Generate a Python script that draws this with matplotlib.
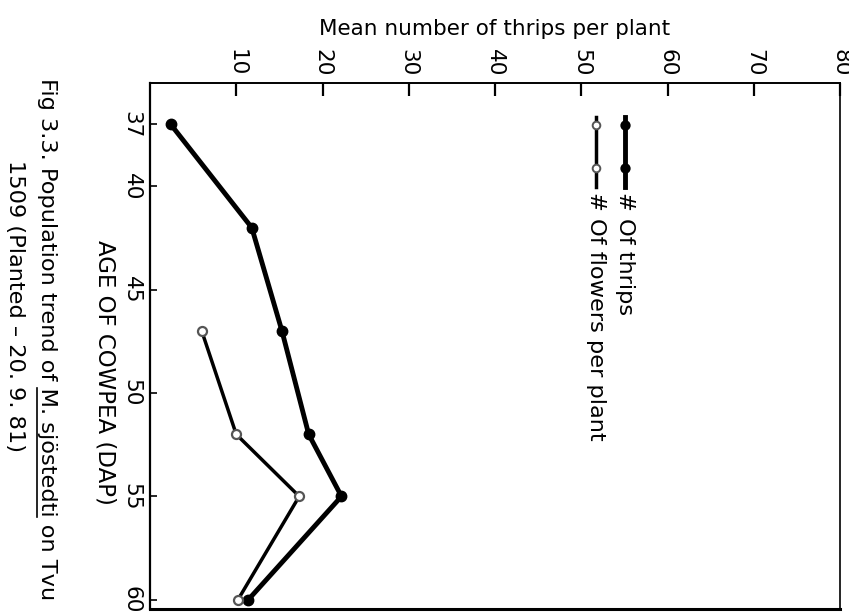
import matplotlib
matplotlib.use("Agg")
import matplotlib.pyplot as plt
from matplotlib.lines import Line2D

# Data (age in days after planting, mean number per plant)
thrips_age = [37, 42, 47, 52, 55, 60]
thrips_mean = [2.4, 11.8, 15.3, 18.4, 22.2, 11.4]
flower_age = [47, 52, 55, 60]
flower_mean = [6.0, 10.0, 17.3, 10.2]
thrips_ticks = [10, 20, 30, 40, 50, 60, 70, 80]
age_ticks = [37, 40, 45, 50, 55, 60]
legend_labels = ["# Of thrips", "# Of flowers per plant"]
caption_pre = "Fig 3.3. Population trend of "
caption_species = "M. sjöstedti"
caption_post = " on Tvu"
caption_line2 = "1509 (Planted \u2013 20. 9. 81)"

W, H = 849, 613
fig = plt.figure(figsize=(W / 100, H / 100), dpi=100)
fig.patch.set_facecolor("white")
ax = fig.add_axes([150 / W, 1 - 609 / H, 690 / W, 526 / H])

ax.plot(thrips_mean, thrips_age, color="black", lw=3.5, marker="o",
        ms=7.5, mfc="black", mec="black", zorder=3, solid_capstyle="round")
ax.plot(flower_mean, flower_age, color="black", lw=2.5, marker="o",
        ms=6.5, mfc="white", mec="#555555", mew=1.6, zorder=4)

ax.set_xlim(0, 80)
ax.set_ylim(60.45, 35)

ax.xaxis.tick_top()
ax.set_xticks(thrips_ticks)
ax.set_xticklabels([str(t) for t in thrips_ticks], rotation=-90, fontsize=15.5)
ax.tick_params(axis="x", direction="in", length=9, width=1.6, pad=5)
ax.set_yticks(age_ticks)
ax.set_yticklabels([str(t) for t in age_ticks], rotation=-90, fontsize=15.5,
                   va="center")
ax.tick_params(axis="y", direction="in", length=5, width=1.2, pad=6)

for side, lw in [("top", 1.4), ("left", 1.6), ("right", 1.2), ("bottom", 2.2)]:
    ax.spines[side].set_linewidth(lw)
    ax.spines[side].set_color("black")

ax.set_xlabel("Mean number of thrips per plant", fontsize=15.5, labelpad=10)
ax.xaxis.set_label_position("top")

# Axis title for age (rotated, reading top-to-bottom)
ax.text(-0.065, 0.45, "AGE OF COWPEA (DAP)", transform=ax.transAxes,
        rotation=-90, ha="center", va="center", fontsize=16.5,
        rotation_mode="anchor")

# Legend drawn in the rotated orientation
leg_x = [0.689, 0.646]
for lab, xx, filled in zip(legend_labels, leg_x, [True, False]):
    ax.plot([xx, xx], [1 - (117 - 83) / 526, 1 - (187 - 83) / 526],
            transform=ax.transAxes, color="black",
            lw=3.5 if filled else 2.5, clip_on=False)
    ax.plot([xx, xx], [1 - (125 - 83) / 526, 1 - (168 - 83) / 526],
            transform=ax.transAxes, ls="none", marker="o",
            ms=6 if filled else 5.5,
            mfc="black" if filled else "white",
            mec="black" if filled else "#555555", mew=1.4, clip_on=False)
    ax.text(xx, 1 - (192 - 83) / 526, lab, transform=ax.transAxes,
            rotation=-90, rotation_mode="anchor", ha="left", va="center",
            fontsize=16.2)

# Caption (rotated)
cap_fs = 16.2
cap_x, cap_y0 = 47, 78
full_caption = caption_pre + caption_species + caption_post
fig.text(cap_x / W, 1 - cap_y0 / H, full_caption,
         rotation=-90, rotation_mode="anchor", ha="left", va="center",
         fontsize=cap_fs)
fig.text(15 / W, 1 - 160 / H, caption_line2,
         rotation=-90, rotation_mode="anchor", ha="left", va="center",
         fontsize=cap_fs)

# underline the species name: measure text widths
renderer = fig.canvas.get_renderer()
def text_width(s):
    t = fig.text(0, 0, s, fontsize=cap_fs)
    w = t.get_window_extent(renderer).width
    t.remove()
    return w
w_pre = text_width(caption_pre)
w_sp = text_width(caption_species)
ul_x = cap_x - 10
y_start = cap_y0 + w_pre
y_end = cap_y0 + w_pre + w_sp
fig.add_artist(Line2D([ul_x / W, ul_x / W], [1 - y_start / H, 1 - y_end / H],
                      transform=fig.transFigure, color="black", lw=1.2))

fig.savefig("out.png", dpi=100, facecolor="white")
